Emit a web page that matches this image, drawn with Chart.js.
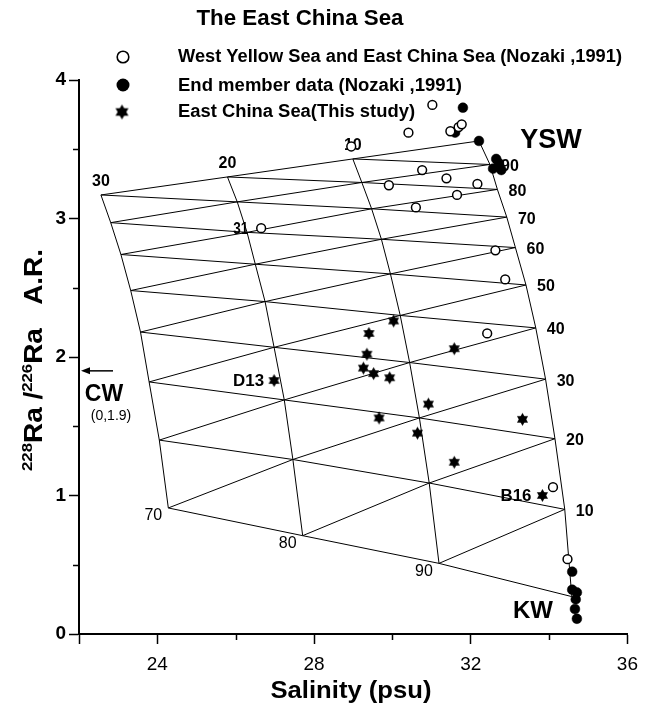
<!DOCTYPE html>
<html>
<head>
<meta charset="utf-8">
<title>The East China Sea</title>
<script src="https://cdn.jsdelivr.net/npm/chart.js@4.4.1/dist/chart.umd.min.js"></script>
<style>
  html, body { margin: 0; padding: 0; background: #fff; }
  #wrap { position: relative; width: 647px; height: 708px; }
</style>
</head>
<body>
<div id="wrap"><canvas id="chart"></canvas></div>
<script>
// mixing grid nodes, index = YSW fraction / 10
var cw0Sal   = [34.58, 34.40, 34.15, 33.91, 33.66, 33.41, 33.14, 32.92, 32.68, 32.49, 32.21];
var cw0Ratio = [0.27, 0.90, 1.41, 1.84, 2.21, 2.52, 2.79, 3.01, 3.21, 3.39, 3.56];
var cw10Sal   = [31.19, 30.94, 30.69, 30.44, 30.20, 29.95, 29.72, 29.47, 29.22, 28.99];
var cw10Ratio = [0.51, 1.09, 1.56, 1.96, 2.30, 2.60, 2.85, 3.07, 3.26, 3.43];
var cw20Sal   = [27.71, 27.46, 27.24, 26.98, 26.75, 26.50, 26.29, 26.04, 25.79];
var cw20Ratio = [0.71, 1.26, 1.69, 2.07, 2.40, 2.67, 2.90, 3.12, 3.30];
var cw30Sal   = [24.28, 24.05, 23.79, 23.57, 23.32, 23.07, 22.81, 22.56];
var cw30Ratio = [0.91, 1.40, 1.82, 2.18, 2.48, 2.74, 2.97, 3.17];

// West Yellow Sea and East China Sea (Nozaki, 1991)
var openSal   = [31.02, 30.41, 31.48, 31.69, 31.77, 28.95, 30.76, 31.38, 32.17, 29.91, 31.65, 30.60, 32.63, 32.88, 32.42, 34.10, 34.47, 26.65];
var openRatio = [3.82, 3.62, 3.63, 3.66, 3.68, 3.52, 3.35, 3.29, 3.25, 3.24, 3.17, 3.08, 2.77, 2.56, 2.17, 1.06, 0.54, 2.93];
// end member data (Nozaki, 1991)
var endSal   = [31.80, 31.60, 32.21, 32.65, 32.57, 32.78, 32.72, 34.59, 34.59, 34.71, 34.68, 34.66, 34.71];
var endRatio = [3.80, 3.62, 3.56, 3.43, 3.36, 3.35, 3.40, 0.45, 0.32, 0.30, 0.25, 0.18, 0.11];
// East China Sea (this study)
var ecsSal   = [30.03, 29.40, 29.35, 29.26, 29.52, 29.93, 30.92, 29.66, 30.64, 31.58, 33.32, 31.58, 33.83, 26.98];
var ecsRatio = [2.26, 2.17, 2.02, 1.92, 1.88, 1.85, 1.66, 1.56, 1.45, 2.06, 1.55, 1.24, 1.00, 1.83];

var xTickVals = [22, 24, 28, 32, 36];
var xTickLabels = ['', '24', '28', '32', '36'];
var yTickVals = [0, 1, 2, 3, 4];
var yTickLabels = ['0', '1', '2', '3', '4'];
var xMinor = [26, 30, 34];
var yMinor = [0.5, 1.5, 2.5, 3.5];

var topLabels = ['30', '20', '10'];        // CW %, top edge
var rightLabels = ['10', '20', '30', '40', '50', '60', '70', '80', '90']; // YSW %
var bottomLabels = ['70', '80', '90'];     // KW %
var cwRatio = 1.9;

var FONT = '"Liberation Sans", Arial, sans-serif';
Chart.defaults.font.family = FONT;
Chart.defaults.color = '#000';

function pts(xs, ys) {
  return xs.map(function(x, i) { return {x: x, y: ys[i]}; });
}

var cwLines = [
  {sal: cw0Sal, ratio: cw0Ratio},
  {sal: cw10Sal, ratio: cw10Ratio},
  {sal: cw20Sal, ratio: cw20Ratio},
  {sal: cw30Sal, ratio: cw30Ratio}
];
function node(c, j) {
  return {x: cwLines[c].sal[j], y: cwLines[c].ratio[j]};
}
function gridLine(p) {
  return {data: p, showLine: true, borderColor: '#000', borderWidth: 1,
          pointRadius: 0, fill: false, order: 1};
}

var gridSets = [];
cwLines.forEach(function(l) { gridSets.push(gridLine(pts(l.sal, l.ratio))); });
// constant YSW fraction
for (var j = 0; j <= 9; j++) {
  var p = [];
  for (var c = 0; c < 4; c++) { if (j <= 10 - c) p.push(node(c, j)); }
  if (p.length > 1) gridSets.push(gridLine(p));
}
// constant KW fraction
for (var k = 0; k <= 9; k++) {
  var q = [];
  for (var c2 = 0; c2 < 4; c2++) {
    var jj = 10 - c2 - k;
    if (jj >= 0) q.push(node(c2, jj));
  }
  if (q.length > 1) gridSets.push(gridLine(q));
}

function makeStar(r) {
  var size = Math.ceil(r * 2 + 2);
  var cv = document.createElement('canvas');
  cv.width = size; cv.height = size;
  var g = cv.getContext('2d');
  var cx = size / 2, cy = size / 2;
  g.fillStyle = '#000';
  [-90, 90].forEach(function(a0) {
    g.beginPath();
    for (var i = 0; i < 3; i++) {
      var a = (a0 + i * 120) * Math.PI / 180;
      var px = cx + r * Math.cos(a), py = cy + r * Math.sin(a);
      if (i === 0) g.moveTo(px, py); else g.lineTo(px, py);
    }
    g.closePath();
    g.fill();
  });
  return cv;
}
var starImg = makeStar(6.4);
var starLegend = makeStar(7.5);

function drawText(ctx, str, x, y, font, align, width) {
  ctx.save();
  ctx.font = font;
  ctx.fillStyle = '#000';
  ctx.textBaseline = 'middle';
  ctx.textAlign = 'left';
  var w = ctx.measureText(str).width;
  var s = width ? width / w : 1;
  var x0 = align === 'center' ? x - w * s / 2 : (align === 'right' ? x - w * s : x);
  ctx.translate(x0, y);
  ctx.scale(s, 1);
  ctx.fillText(str, 0, 0);
  ctx.restore();
}

var decorations = {
  id: 'decorations',
  beforeDatasetsDraw: function(chart) {
    var ctx = chart.ctx, xs = chart.scales.x, ys = chart.scales.y;
    var ca = chart.chartArea;
    function px(c, j) {
      return {x: xs.getPixelForValue(cwLines[c].sal[j]), y: ys.getPixelForValue(cwLines[c].ratio[j])};
    }

    // title
    drawText(ctx, 'The East China Sea', 300, 19, 'bold 22px ' + FONT, 'center', 207);

    // legend
    ctx.save();
    ctx.lineWidth = 1.6;
    ctx.strokeStyle = '#000';
    ctx.fillStyle = '#fff';
    ctx.beginPath(); ctx.arc(123, 57, 5.8, 0, Math.PI * 2); ctx.fill(); ctx.stroke();
    ctx.fillStyle = '#000';
    ctx.beginPath(); ctx.arc(123, 85, 6.5, 0, Math.PI * 2); ctx.fill();
    ctx.drawImage(starLegend, 122 - starLegend.width / 2, 112 - starLegend.height / 2);
    ctx.restore();
    drawText(ctx, 'West Yellow Sea and East China Sea (Nozaki ,1991)', 178, 57, 'bold 18px ' + FONT, 'left', 444);
    drawText(ctx, 'End member data (Nozaki ,1991)', 178, 86, 'bold 18px ' + FONT, 'left', 284);
    drawText(ctx, 'East China Sea(This study)', 178, 112, 'bold 18px ' + FONT, 'left', 237);

    // grid labels
    var lf = 'bold 16px ' + FONT;
    topLabels.forEach(function(t, i) {
      var c = 3 - i, n = px(c, cwLines[c].sal.length - 1);
      drawText(ctx, t, n.x, n.y - 13, lf, 'center');
    });
    rightLabels.forEach(function(t, i) {
      var n = px(0, i + 1);
      drawText(ctx, t, n.x + 20, n.y + 2, lf, 'center');
    });
    bottomLabels.forEach(function(t, i) {
      var n = px(3 - i, 0);
      drawText(ctx, t, n.x - 15, n.y + 8, '16px ' + FONT, 'center');
    });

    // end member names
    drawText(ctx, 'YSW', 551, 141, 'bold 27px ' + FONT, 'center');
    drawText(ctx, 'KW', 533, 611, 'bold 24px ' + FONT, 'center');
    drawText(ctx, 'CW', 104, 395, 'bold 23px ' + FONT, 'center');
    drawText(ctx, '(0,1.9)', 111, 416, '14px ' + FONT, 'center');

    // CW arrow pointing at the axis
    var ay = ys.getPixelForValue(cwRatio);
    ctx.save();
    ctx.strokeStyle = '#000';
    ctx.fillStyle = '#000';
    ctx.lineWidth = 1.5;
    ctx.beginPath(); ctx.moveTo(ca.left + 34, ay); ctx.lineTo(ca.left + 8, ay); ctx.stroke();
    ctx.beginPath(); ctx.moveTo(ca.left + 2, ay); ctx.lineTo(ca.left + 11, ay - 3.5); ctx.lineTo(ca.left + 11, ay + 3.5); ctx.closePath(); ctx.fill();
    ctx.restore();

    // station labels
    var d13 = {x: xs.getPixelForValue(ecsSal[13]), y: ys.getPixelForValue(ecsRatio[13])};
    drawText(ctx, 'D13', d13.x - 10, d13.y + 1, 'bold 17px ' + FONT, 'right', 31);
    var b16 = {x: xs.getPixelForValue(ecsSal[12]), y: ys.getPixelForValue(ecsRatio[12])};
    drawText(ctx, 'B16', b16.x - 11, b16.y + 1, 'bold 17px ' + FONT, 'right', 31);
    var s31 = {x: xs.getPixelForValue(openSal[17]), y: ys.getPixelForValue(openRatio[17])};
    drawText(ctx, '31', s31.x - 13, s31.y + 1, 'bold 16px ' + FONT, 'right', 15);

    // axis titles
    drawText(ctx, 'Salinity (psu)', 351, 691, 'bold 24px ' + FONT, 'center', 161);
    var parts = [['228', true], ['Ra /', false], ['226', true], ['Ra   A.R.', false]];
    ctx.save();
    var total = 0;
    parts.forEach(function(pt) {
      ctx.font = pt[1] ? 'bold 15px ' + FONT : 'bold 25px ' + FONT;
      pt.push(ctx.measureText(pt[0]).width);
      total += pt[2];
    });
    var sc = 222 / total;
    ctx.translate(33, 360);
    ctx.rotate(-Math.PI / 2);
    ctx.scale(sc, 1);
    ctx.fillStyle = '#000';
    ctx.textBaseline = 'alphabetic';
    var cx = -total / 2;
    parts.forEach(function(pt) {
      ctx.font = pt[1] ? 'bold 15px ' + FONT : 'bold 25px ' + FONT;
      ctx.fillText(pt[0], cx, pt[1] ? -1 : 9);
      cx += pt[2];
    });
    ctx.restore();
  },
  afterDraw: function(chart) {
    var ctx = chart.ctx, xs = chart.scales.x, ys = chart.scales.y, ca = chart.chartArea;
    ctx.save();
    ctx.strokeStyle = '#000';
    ctx.lineWidth = 1.5;
    ctx.beginPath();
    yMinor.forEach(function(v) {
      var p = Math.round(ys.getPixelForValue(v)) + 0.5;
      ctx.moveTo(ca.left, p); ctx.lineTo(ca.left - 6, p);
    });
    xMinor.forEach(function(v) {
      var p = Math.round(xs.getPixelForValue(v)) + 0.5;
      ctx.moveTo(p, ca.bottom); ctx.lineTo(p, ca.bottom + 6);
    });
    ctx.stroke();
    ctx.restore();
  }
};

var datasets = [
  {data: pts(openSal, openRatio), pointStyle: 'circle', pointRadius: 4.4,
   pointBackgroundColor: '#fff', pointBorderColor: '#000', pointBorderWidth: 1.5, order: 0},
  {data: pts(endSal, endRatio), pointStyle: 'circle', pointRadius: 4.9,
   pointBackgroundColor: '#000', pointBorderColor: '#000', pointBorderWidth: 0.5, order: 0},
  {data: pts(ecsSal, ecsRatio), pointStyle: starImg, order: 0}
].concat(gridSets);

new Chart(document.getElementById('chart'), {
  type: 'scatter',
  data: {datasets: datasets},
  options: {
    responsive: true,
    maintainAspectRatio: false,
    devicePixelRatio: 1,
    animation: false,
    events: [],
    layout: {padding: {left: 0, right: 10, top: 80, bottom: 0}},
    plugins: {legend: {display: false}, tooltip: {enabled: false}, title: {display: false}},
    scales: {
      x: {
        type: 'linear', min: 22, max: 36,
        afterBuildTicks: function(axis) { axis.ticks = xTickVals.map(function(v) { return {value: v}; }); },
        afterFit: function(axis) { axis.height = 74; },
        ticks: {
          autoSkip: false, maxRotation: 0, padding: 9,
          font: {size: 19},
          callback: function(v) { return xTickLabels[xTickVals.indexOf(v)]; }
        },
        grid: {display: true, drawOnChartArea: false, drawTicks: true, tickLength: 10, tickWidth: 1.5, tickColor: '#000'},
        border: {display: true, color: '#000', width: 2}
      },
      y: {
        type: 'linear', min: 0, max: 4,
        afterBuildTicks: function(axis) { axis.ticks = yTickVals.map(function(v) { return {value: v}; }); },
        afterFit: function(axis) { axis.width = 79; },
        ticks: {
          autoSkip: false, padding: 3,
          font: {size: 19, weight: 'bold'},
          callback: function(v) { return yTickLabels[yTickVals.indexOf(v)]; }
        },
        grid: {display: true, drawOnChartArea: false, drawTicks: true, tickLength: 10, tickWidth: 1.5, tickColor: '#000'},
        border: {display: true, color: '#000', width: 2}
      }
    }
  },
  plugins: [decorations]
});
</script>
</body>
</html>
